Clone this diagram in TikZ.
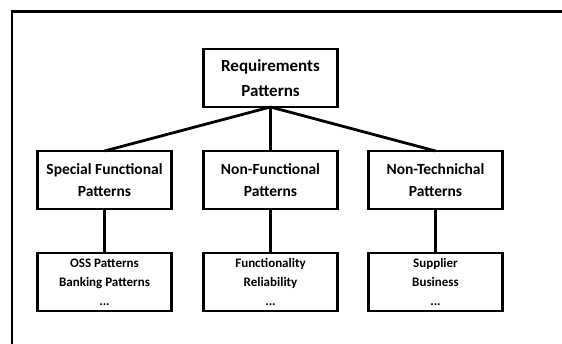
\documentclass[tikz,border=0pt]{standalone}
\usepackage{fontspec}
\setmainfont{Carlito}
\usetikzlibrary{positioning}
\tikzset{
  patbox/.style={rectangle, draw, line width=2.6pt, outer sep=0pt, inner sep=2pt,
                 minimum width=134pt, minimum height=58pt, align=center,
                 font=\bfseries\fontsize{15.5}{22}\selectfont},
  topbox/.style={patbox, font=\bfseries\fontsize{17}{25}\selectfont},
  subbox/.style={patbox, font=\bfseries\fontsize{13}{19}\selectfont},
  link/.style={line width=2.8pt},
  frame/.style={line width=2.8pt},
}
\begin{document}
\begin{tikzpicture}[x=1pt, y=1pt]
  \useasboundingbox (0,0) rectangle (562,344);
  \clip (0,0) rectangle (562,344);
  \draw[frame] (12,-20) -- (12,332.5) -- (580,332.5);

  \node[topbox] (req) at (270.5,266) {Requirements\\Patterns};
  \node[patbox] (nonfun) [below=44pt of req] {Non-Functional\\Patterns};
  \node[patbox] (special) [left=32pt of nonfun] {Special Functional\\Patterns};
  \node[patbox] (nontech) [right=31pt of nonfun] {Non-Technichal\\Patterns};

  \node[subbox] (specialsub) [below=44pt of special] {OSS Patterns\\Banking Patterns\\...};
  \node[subbox] (nonfunsub) [below=44pt of nonfun] {Functionality\\Reliability\\...};
  \node[subbox] (nontechsub) [below=44pt of nontech] {Supplier\\Business\\...};

  \draw[link] (req.south) -- (special.north);
  \draw[link] (req.south) -- (nonfun.north);
  \draw[link] (req.south) -- (nontech.north);
  \draw[link] (special.south) -- (specialsub.north);
  \draw[link] (nonfun.south) -- (nonfunsub.north);
  \draw[link] (nontech.south) -- (nontechsub.north);

\end{tikzpicture}
\end{document}
